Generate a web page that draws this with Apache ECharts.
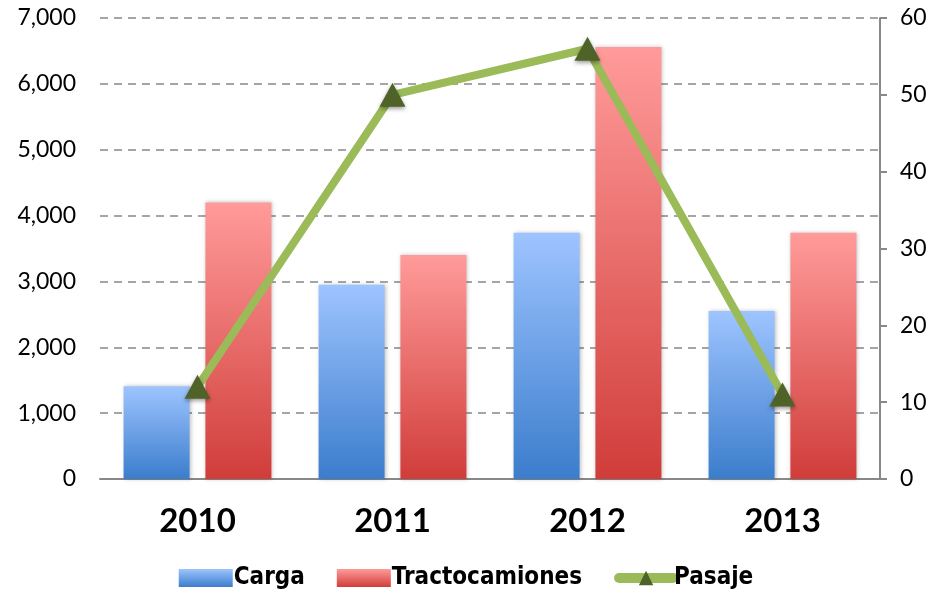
<!DOCTYPE html>
<html>
<head>
<meta charset="utf-8">
<script src="https://cdn.jsdelivr.net/npm/echarts@6/dist/echarts.min.js"></script>
<style>
  html, body { margin: 0; padding: 0; background: #fff; }
  #chart { width: 932px; height: 599px; }
</style>
</head>
<body>
<div id="chart"></div>
<script>
// datos
const years = ['2010', '2011', '2012', '2013']
const carga = [1410, 2950, 3740, 2550]
const tractocamiones = [4200, 3400, 6560, 3740]
const pasaje = [12, 50, 56, 11]

const chart = echarts.init(document.getElementById('chart'))

const grad = (top, bottom) => new echarts.graphic.LinearGradient(0, 0, 0, 1, [
  { offset: 0, color: top },
  { offset: 1, color: bottom }
])

const option = {
  backgroundColor: '#ffffff',
  animation: false,
  grid: {
    left: 100,
    right: 52,
    top: 18,
    bottom: 120
  },
  legend: {
    bottom: 4,
    left: 'center',
    itemWidth: 54,
    itemHeight: 18,
    itemGap: 32,
    textStyle: {
      fontFamily: 'DejaVu Sans Condensed',
      fontWeight: 'bold',
      fontSize: 24,
      color: '#000',
      padding: [0, 0, 0, -4]
    },
    data: [
      { name: 'Carga', icon: 'rect' },
      { name: 'Tractocamiones', icon: 'rect' },
      {
        name: 'Pasaje',
        itemStyle: { color: '#4f6228' },
        lineStyle: { color: '#9bbb59', width: 10, cap: 'round' }
      }
    ]
  },
  xAxis: {
    type: 'category',
    data: years,
    axisLine: { show: true, lineStyle: { color: '#888', width: 2 } },
    axisTick: { show: false },
    axisLabel: {
      color: '#000',
      fontFamily: 'Lato',
      fontWeight: 'bold',
      fontSize: 33,
      margin: 26
    }
  },
  yAxis: [
    {
      type: 'value',
      min: 0,
      max: 7000,
      interval: 1000,
      axisLine: { show: false },
      axisTick: { show: false },
      axisLabel: {
        color: '#000',
        fontFamily: 'Lato',
        fontSize: 23,
        margin: 24,
        formatter: v => v.toLocaleString('en-US')
      },
      splitLine: {
        show: true,
        lineStyle: { type: [8, 6], color: '#888', width: 1.5 }
      }
    },
    {
      type: 'value',
      min: 0,
      max: 60,
      interval: 10,
      position: 'right',
      axisLine: { show: true, lineStyle: { color: '#888', width: 2 } },
      axisTick: { show: true, inside: false, length: 7, lineStyle: { color: '#888', width: 2 } },
      axisLabel: {
        color: '#000',
        fontFamily: 'Lato',
        fontSize: 23,
        margin: 20
      },
      splitLine: { show: false }
    }
  ],
  series: [
    {
      name: 'Carga',
      type: 'bar',
      data: carga,
      barWidth: 66,
      barGap: '24%',
      itemStyle: {
        color: grad('#9ec4ff', '#3b7dcc'),
        shadowColor: 'rgba(0,0,0,0.25)',
        shadowBlur: 4,
        shadowOffsetX: 1
      }
    },
    {
      name: 'Tractocamiones',
      type: 'bar',
      data: tractocamiones,
      barWidth: 66,
      itemStyle: {
        color: grad('#ff9b9a', '#d03d3a'),
        shadowColor: 'rgba(0,0,0,0.25)',
        shadowBlur: 4,
        shadowOffsetX: 1
      }
    },
    {
      name: 'Pasaje',
      type: 'line',
      yAxisIndex: 1,
      data: pasaje,
      symbol: 'triangle',
      symbolSize: [26, 24],
      z: 5,
      lineStyle: { color: '#9bbb59', width: 8, cap: 'round' },
      itemStyle: {
        color: '#4f6228',
        shadowColor: 'rgba(0,0,0,0.4)',
        shadowBlur: 4,
        shadowOffsetY: 2
      }
    }
  ]
}

chart.setOption(option)
</script>
</body>
</html>
